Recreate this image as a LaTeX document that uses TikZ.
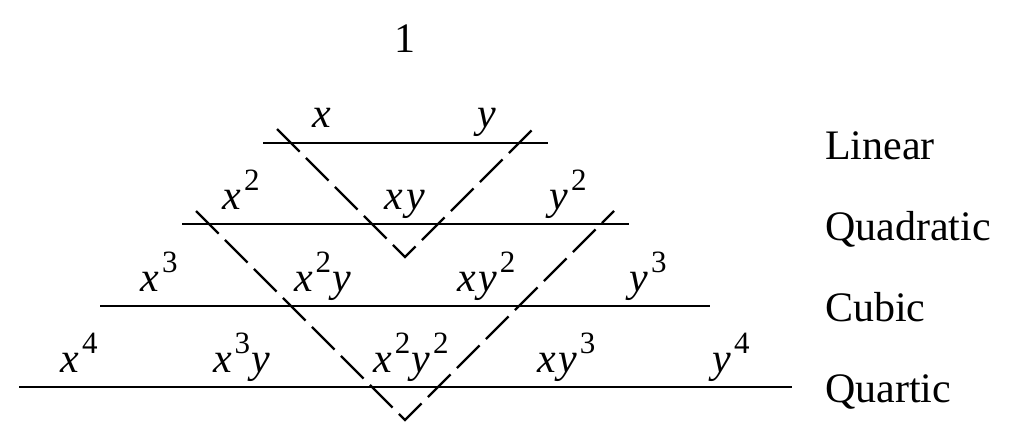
\documentclass[tikz,border=0pt]{standalone}
\usepackage{fontspec}
\setmainfont{Liberation Serif}
\newcommand\vx{\textit{x}}
\newcommand\vy{\textit{y}}
\newcommand\pw[1]{\kern2.5pt\raisebox{0.44em}{\fontsize{31}{31}\selectfont #1}\kern1.5pt}
\begin{document}
\begin{tikzpicture}[x=1pt,y=-1pt,
  lbl/.style={anchor=base,inner sep=0pt,font=\fontsize{42}{48}\selectfont},
  rlbl/.style={anchor=base west,inner sep=0pt,font=\fontsize{42}{48}\selectfont},
  level/.style={line width=2.3pt},
  diag/.style={line width=2.3pt,dash pattern=on 32pt off 9pt}]
\useasboundingbox (0,0) rectangle (1024,431);
% top
\node[lbl] (one) at (405,52) {1};
% level lines
\coordinate (l1a) at (263,143); \coordinate (l1b) at (548,143);
\coordinate (l2a) at (182,224); \coordinate (l2b) at (629,224);
\coordinate (l3a) at (100,306); \coordinate (l3b) at (710,306);
\coordinate (l4a) at (19,387);  \coordinate (l4b) at (792,387);
\draw[level] (l1a) -- (l1b);
\draw[level] (l2a) -- (l2b);
\draw[level] (l3a) -- (l3b);
\draw[level] (l4a) -- (l4b);
% dashed V's
\coordinate (v1a) at (277,129); \coordinate (v1m) at (405,257); \coordinate (v1b) at (533,129);
\coordinate (v2a) at (196,211); \coordinate (v2m) at (405,420); \coordinate (v2b) at (614,211);
\draw[diag] (v1a) -- (v1m) -- (v1b);
\draw[diag] (v2a) -- (v2m) -- (v2b);
% row 1
\node[lbl] (x1) at (322,127) {\vx};
\node[lbl] (y1) at (487,127) {\vy};
% row 2
\node[lbl] (x2) at (242,209) {\vx\pw{2}};
\node[lbl] (xy) at (405,209) {\vx\kern3pt\vy};
\node[lbl] (y2) at (569,209) {\vy\pw{2}};
% row 3
\node[lbl] (x3) at (160,291) {\vx\pw{3}};
\node[lbl] (x2y) at (323,291) {\vx\pw{2}\vy};
\node[lbl] (xy2) at (487,291) {\vx\kern3pt\vy\pw{2}};
\node[lbl] (y3) at (649,291) {\vy\pw{3}};
% row 4
\node[lbl] (x4) at (80,372) {\vx\pw{4}};
\node[lbl] (x3y) at (242,372) {\vx\pw{3}\vy};
\node[lbl] (x2y2) at (412,372) {\vx\pw{2}\vy\pw{2}};
\node[lbl] (xy3) at (567,372) {\vx\kern3pt\vy\pw{3}};
\node[lbl] (y4) at (732,372) {\vy\pw{4}};
% right labels
\node[rlbl] (lin) at (825,159) {Linear};
\node[rlbl] (quad) at (825,240) {Quadratic};
\node[rlbl] (cub) at (825,321) {Cubic};
\node[rlbl] (quart) at (825,402) {Quartic};
\end{tikzpicture}
\end{document}
